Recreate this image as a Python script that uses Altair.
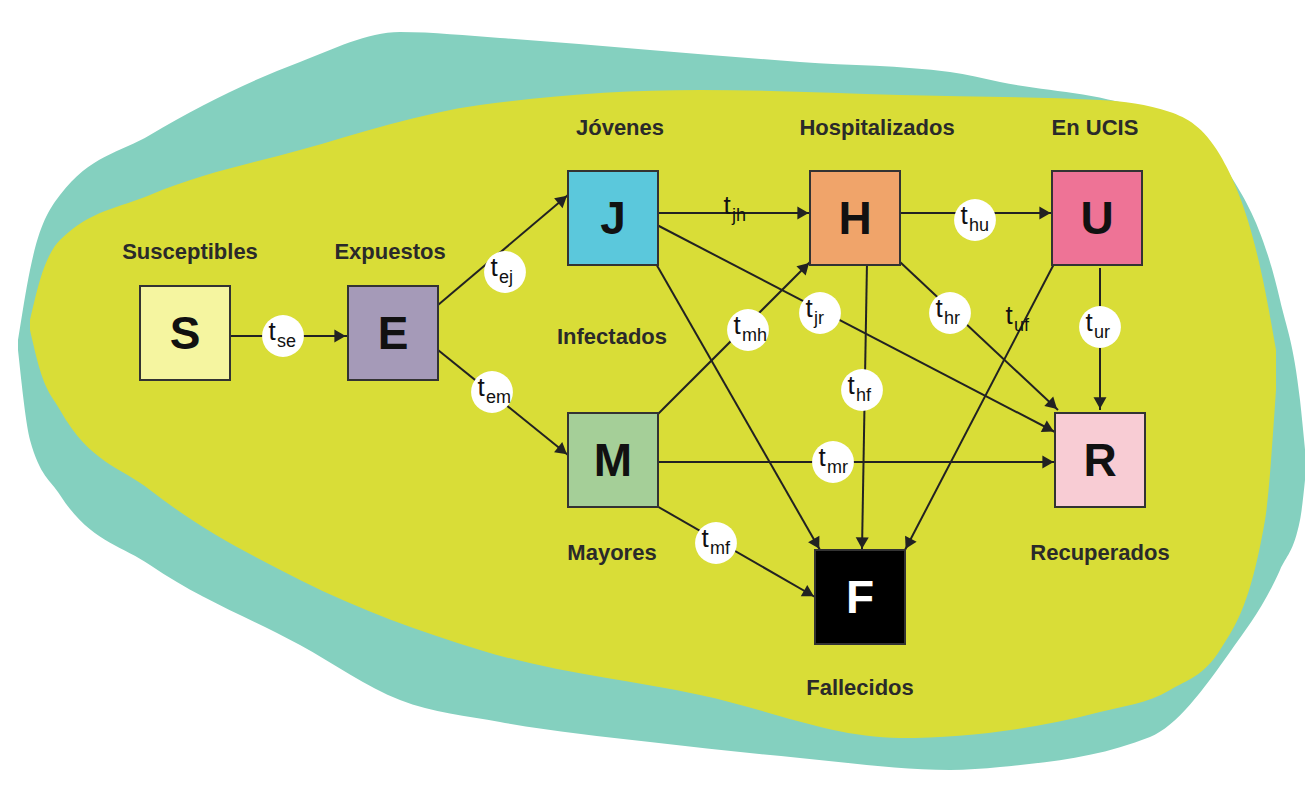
import pandas as pd
import altair as alt

# background blobs: x, top edge y, bottom edge y (pixel coords, y grows down)
teal_x   = [18, 30, 60, 150, 300, 400, 500, 650, 800, 950, 1000, 1150, 1230, 1280, 1300, 1306]
teal_top = [340, 270, 195, 135, 62, 32, 38, 50, 62, 72, 82, 112, 175, 300, 400, 460]
teal_bot = [350, 440, 495, 565, 645, 700, 722, 742, 758, 770, 767, 737, 652, 570, 520, 470]

yel_x   = [30, 40, 60, 150, 300, 480, 700, 900, 1100, 1170, 1220, 1265, 1276]
yel_top = [320, 280, 240, 195, 150, 105, 90, 95, 100, 112, 155, 290, 350]
yel_bot = [330, 370, 410, 490, 580, 650, 695, 738, 712, 690, 650, 520, 390]

# compartments
box_id    = ["S", "E", "J", "M", "H", "U", "R", "F"]
box_cx    = [185, 393, 613, 613, 855, 1097, 1100, 860]
box_cy    = [333, 333, 218, 460, 218, 218, 460, 597]
box_color = ["#f5f5a0", "#a59ab8", "#5bc8dc", "#a5cf98", "#f0a46a", "#ee7396", "#f8ccd4", "#000000"]
box_text  = ["#111111"] * 7 + ["#ffffff"]

# group labels
lab_text = ["Susceptibles", "Expuestos", "Jóvenes", "Hospitalizados", "En UCIS",
            "Infectados", "Mayores", "Recuperados", "Fallecidos"]
lab_x = [190, 390, 620, 877, 1095, 612, 612, 1100, 860]
lab_y = [252, 252, 128, 128, 128, 337, 553, 553, 688]

# transitions: start and end points
edge_x1 = [230, 438, 438, 657, 657, 655, 657, 657, 655, 900, 900, 867, 1055, 1100]
edge_y1 = [336, 305, 350, 213, 225, 262, 415, 462, 505, 213, 262, 262, 262, 268]
edge_x2 = [347, 568, 568, 810, 1055, 820, 810, 1055, 815, 1052, 1058, 862, 905, 1100]
edge_y2 = [336, 195, 455, 213, 432, 550, 262, 462, 597, 213, 410, 550, 550, 410]

# rate labels
rate_sub    = ["se", "ej", "em", "jh", "mh", "jr", "hr", "hf", "mr", "mf", "hu", "uf", "ur"]
rate_x      = [283, 505, 492, 738, 748, 820, 950, 862, 833, 716, 975, 1020, 1100]
rate_y      = [336, 272, 392, 210, 330, 313, 313, 390, 462, 543, 220, 320, 327]
rate_circle = [True, True, True, False, True, True, True, True, True, True, True, False, True]

X = alt.Scale(domain=[8, 1305], nice=False, zero=False)
Y = alt.Scale(domain=[8, 778], nice=False, zero=False, reverse=True)


def xe(f, **kw):
    return alt.X(f, scale=X, axis=None, **kw)


def ye(f, **kw):
    return alt.Y(f, scale=Y, axis=None, **kw)


teal = alt.Chart(pd.DataFrame({"x": teal_x, "t": teal_top, "b": teal_bot})).mark_area(
    color="#84d0bf", interpolate="monotone", opacity=1
).encode(x=xe("x:Q"), y=ye("t:Q"), y2="b:Q")

yellow = alt.Chart(pd.DataFrame({"x": yel_x, "t": yel_top, "b": yel_bot})).mark_area(
    color="#d9dd37", interpolate="monotone", opacity=1
).encode(x=xe("x:Q"), y=ye("t:Q"), y2="b:Q")

edges = pd.DataFrame({"x1": edge_x1, "y1": edge_y1, "x2": edge_x2, "y2": edge_y2})
lines = alt.Chart(edges).mark_rule(color="#222222", strokeWidth=2).encode(
    x=xe("x1:Q"), y=ye("y1:Q"), x2="x2:Q", y2="y2:Q")

heads = alt.Chart(edges).transform_calculate(
    len="sqrt(pow(datum.x2-datum.x1,2)+pow(datum.y2-datum.y1,2))",
    hx="datum.x2-7*(datum.x2-datum.x1)/datum.len",
    hy="datum.y2-7*(datum.y2-datum.y1)/datum.len",
    ang="(atan2(datum.x2-datum.x1, -(datum.y2-datum.y1))*180/PI+360)%360",
).mark_point(shape="triangle-up", filled=True, color="#222222", size=170, opacity=1).encode(
    x=xe("hx:Q"), y=ye("hy:Q"), angle=alt.Angle("ang:Q", scale=None))

boxes_df = pd.DataFrame({"id": box_id, "cx": box_cx, "cy": box_cy, "c": box_color, "tc": box_text})
boxes = alt.Chart(boxes_df).transform_calculate(
    x1="datum.cx-45", x2="datum.cx+45", y1="datum.cy-47", y2="datum.cy+47"
).mark_rect(stroke="#333333", strokeWidth=2).encode(
    x=xe("x1:Q"), x2="x2:Q", y=ye("y1:Q"), y2="y2:Q", color=alt.Color("c:N", scale=None))
box_letters = alt.Chart(boxes_df).mark_text(
    font="Liberation Sans", fontWeight="bold", fontSize=46, baseline="middle", dy=2
).encode(x=xe("cx:Q"), y=ye("cy:Q"), text="id:N", color=alt.Color("tc:N", scale=None))

labels = alt.Chart(pd.DataFrame({"t": lab_text, "x": lab_x, "y": lab_y})).mark_text(
    font="Liberation Sans", fontWeight="bold", fontSize=22, color="#2a2a2a", baseline="middle"
).encode(x=xe("x:Q"), y=ye("y:Q"), text="t:N")

rates = pd.DataFrame({"s": rate_sub, "x": rate_x, "y": rate_y, "c": rate_circle})
circles = alt.Chart(rates).transform_filter("datum.c").mark_point(
    shape="circle", filled=True, color="white", size=1750, opacity=1
).encode(x=xe("x:Q"), y=ye("y:Q"))
t_main = alt.Chart(rates).mark_text(
    font="Liberation Sans", fontSize=26, color="#111111", baseline="middle", dx=-11, dy=-4
).encode(x=xe("x:Q"), y=ye("y:Q"), text=alt.value("t"))
t_sub = alt.Chart(rates).mark_text(
    font="Liberation Sans", fontSize=18, color="#111111", baseline="middle", align="left", dx=-6, dy=6
).encode(x=xe("x:Q"), y=ye("y:Q"), text="s:N")

chart = alt.layer(
    teal, yellow, lines, heads, boxes, box_letters, labels, circles, t_main, t_sub
).properties(width=1297, height=770, padding=0, autosize="none", background="white"
).configure_view(strokeWidth=0)

chart.save("out.html", embed_options={"renderer": "svg", "actions": False})
